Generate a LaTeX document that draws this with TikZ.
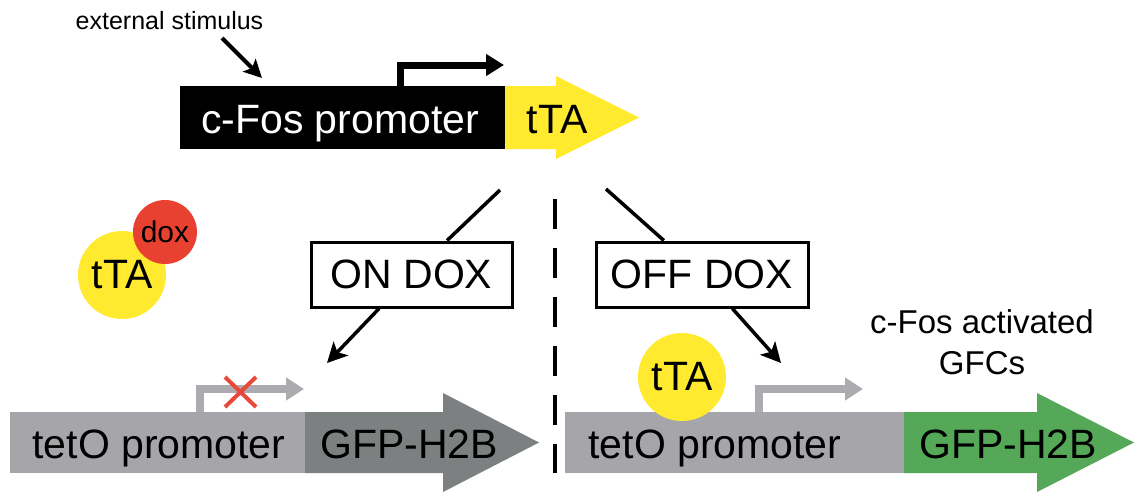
\documentclass[tikz,border=0pt]{standalone}
\usepackage{fontspec}
\setmainfont{Liberation Sans}
\usepackage{xcolor}
\usetikzlibrary{arrows.meta}

\definecolor{ttayellow}{RGB}{255,234,48}
\definecolor{doxred}{RGB}{232,65,50}
\definecolor{bodygrey}{RGB}{166,166,170}
\definecolor{promgrey}{RGB}{172,172,176}
\definecolor{gfpgrey}{RGB}{124,128,128}
\definecolor{gfpgreen}{RGB}{84,168,88}
\definecolor{xred}{RGB}{232,72,58}

\newcommand{\bigtxt}{\fontsize{41}{49}\selectfont}

\begin{document}
\begin{tikzpicture}[x=1pt,y=-1pt,
  gene text/.style={anchor=base, inner sep=0pt, font=\bigtxt},
  label box/.style={draw, line width=3pt, fill=white, minimum height=65pt, inner sep=0pt, font=\bigtxt},
  protein/.style={circle, inner sep=0pt},
  link/.style={line width=3.5pt},
  pointer/.style={-{Stealth[length=20pt,width=20pt,inset=5pt]}},
  tss/.style={line width=8pt, line join=miter, -{Triangle[length=18pt,width=22pt]}}]
\useasboundingbox (0,0) rectangle (1135,491);
% c-Fos promoter driving tTA
\fill[black] (180,86) rectangle (505,149);
\fill[ttayellow] (505,86) -- (556,86) -- (556,76) -- (639,117.5) -- (556,159) -- (556,149) -- (505,149) -- cycle;
\node[gene text, text=white] (cfos) at (340,133) {c-Fos promoter};
\node[gene text] (tta) at (557,133) {tTA};
\draw[tss, line width=7pt, -{Triangle[length=18pt,width=21pt]}] (400,86) -- (400,65) -- (504,65);
% stimulus
\node[anchor=base, inner sep=0pt, font=\fontsize{25}{30}\selectfont] (stim) at (169.5,29) {external stimulus};
\coordinate (stimtail) at (222,38);
\coordinate (stimtip) at (262,78);
\draw[line width=4pt, -{Stealth[length=18pt,width=18pt,inset=4pt]}] (stimtail) -- (stimtip);
% tTA bound by dox
\node[protein, fill=ttayellow, minimum size=88pt, font=\bigtxt] (freetta) at (122,275) {tTA};
\node[protein, fill=doxred, minimum size=64pt, font=\fontsize{30}{36}\selectfont] (dox) at (165,232) {dox};
% divider
\draw[line width=4pt, dash pattern=on 30pt off 19pt] (555,199) -- (555,473);
% condition boxes
\node[label box, minimum width=201pt] (ondox) at (411.5,274.5) {ON DOX};
\node[label box, minimum width=212pt] (offdox) at (702,274.5) {OFF DOX};
\coordinate (onstart) at (500,190);
\coordinate (ontip) at (327,363);
\coordinate (offstart) at (606,189);
\coordinate (offtip) at (781,363);
\draw[link] (onstart) -- (ondox);
\draw[link, pointer] (ondox) -- (ontip);
\draw[link] (offstart) -- (offdox);
\draw[link, pointer] (offdox) -- (offtip);
% reporter, on dox (silent)
\fill[bodygrey] (10,412) rectangle (305,473);
\fill[gfpgrey] (305,412) -- (443,412) -- (443,393) -- (539,442.5) -- (443,492) -- (443,473) -- (305,473) -- cycle;
\draw[tss, promgrey] (200,412) -- (200,389) -- (304,389);
\draw[xred, line width=4pt] (225,377) -- (256,407) (225,407) -- (256,377);
\node[gene text] (teto1) at (159,458) {tetO promoter};
\node[gene text] (gfp1) at (409,458) {GFP-H2B};
% reporter, off dox (active)
\fill[bodygrey] (565,412) rectangle (904,473);
\fill[gfpgreen] (904,412) -- (1037,412) -- (1037,393) -- (1134,442.5) -- (1037,492) -- (1037,473) -- (904,473) -- cycle;
\draw[tss, promgrey] (759,412) -- (759,389) -- (863,389);
\node[protein, fill=ttayellow, minimum size=88pt, font=\bigtxt] (boundtta) at (682,377) {tTA};
\node[gene text] (teto2) at (715,458) {tetO promoter};
\node[gene text] (gfp2) at (1008,458) {GFP-H2B};
\node[align=center, inner sep=0pt, font=\fontsize{33}{41}\selectfont] (gfcs) at (982,342) {c-Fos activated\\GFCs};
\end{tikzpicture}
\end{document}
